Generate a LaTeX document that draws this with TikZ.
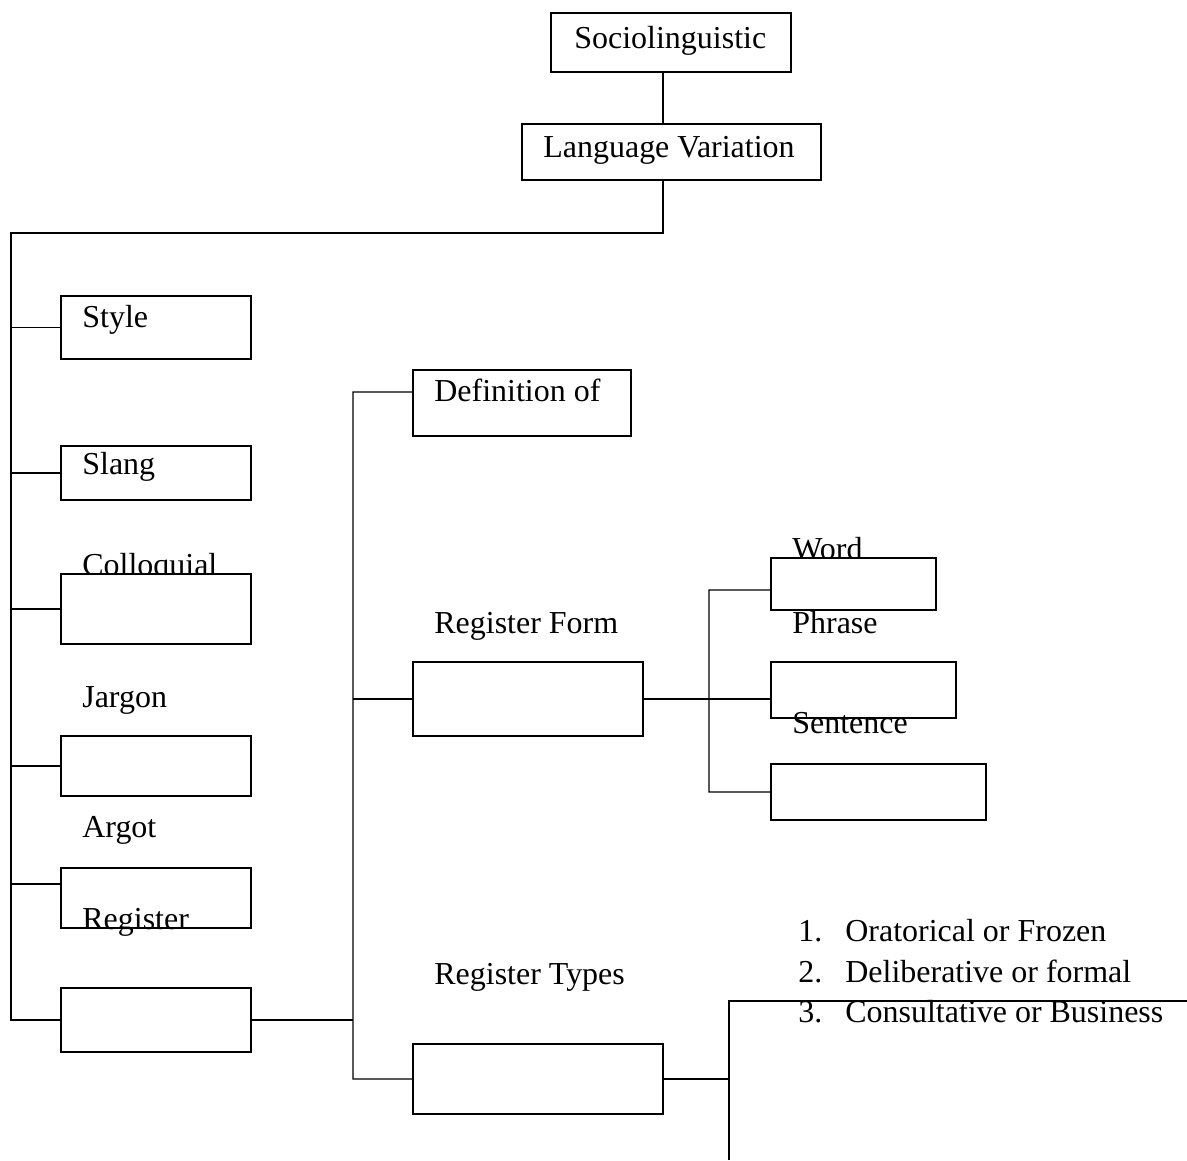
\documentclass[tikz,border=0pt]{standalone}
\usepackage{fontspec}
\setmainfont{Liberation Serif}
\usepackage{tikz}

\begin{document}
\begin{tikzpicture}[x=0.02cm,y=-0.02cm]
			\tikzstyle{bx} = [draw, fill=white, line width=0.8pt, inner sep=0pt]
			\tikzstyle{lbl} = [anchor=base west, inner sep=0pt, font=\fontsize{18.2}{22}\selectfont]
			\useasboundingbox (0,0) rectangle (1187,1160);

			% top of the tree
			\node [bx, minimum width=4.8cm, minimum height=1.18cm] (soc) at (671,42.5) {};
			\node [lbl] at (574,48) {Sociolinguistic};
			\node [bx, minimum width=5.98cm, minimum height=1.12cm] (lv) at (671.5,152) {};
			\node [lbl] at (543,157) {Language Variation};

			% left column
			\node [bx, minimum width=3.8cm, minimum height=1.26cm] (style) at (156,327.5) {};
			\node [lbl] at (82,327) {Style};
			\node [bx, minimum width=3.8cm, minimum height=1.08cm] (slang) at (156,473) {};
			\node [lbl] at (82,474) {Slang};
			\node [lbl] at (82,575) {Colloquial};
			\node [bx, minimum width=3.8cm, minimum height=1.4cm] (coll) at (156,609) {};
			\node [lbl] at (82,707) {Jargon};
			\node [bx, minimum width=3.8cm, minimum height=1.2cm] (jarg) at (156,766) {};
			\node [lbl] at (82,837) {Argot};
			\node [bx, minimum width=3.8cm, minimum height=1.2cm] (argot) at (156,898) {};
			\node [lbl] at (82,929) {Register};
			\node [bx, minimum width=3.8cm, minimum height=1.28cm] (reg) at (156,1020) {};

			% register branch
			\node [bx, minimum width=4.36cm, minimum height=1.32cm] (def) at (522,403) {};
			\node [lbl] at (434,401) {Definition of};
			\node [lbl] at (434,633) {Register Form};
			\node [bx, minimum width=4.6cm, minimum height=1.48cm] (form) at (528,699) {};
			\node [lbl] at (434,984) {Register Types};
			\node [bx, minimum width=5cm, minimum height=1.4cm] (types) at (538,1079) {};

			% register form branch
			\node [lbl] at (792,559) {Word};
			\node [bx, minimum width=3.3cm, minimum height=1.04cm] (word) at (853.5,584) {};
			\node [lbl] at (792,633) {Phrase};
			\node [bx, minimum width=3.7cm, minimum height=1.12cm] (phrase) at (863.5,690) {};
			\node [lbl] at (792,733) {Sentence};
			\node [bx, minimum width=4.3cm, minimum height=1.12cm] (sent) at (878.5,792) {};

			% register types list
			\node [lbl] (n1) at (798,941) {1.};
			\node [lbl] at (845,941) {Oratorical or Frozen};
			\node [lbl] (n2) at (798,982) {2.};
			\node [lbl] at (845,982) {Deliberative or formal};
			\node [lbl] (n3) at (798,1022) {3.};
			\node [lbl] at (845,1022) {Consultative or Business};

			\coordinate (top) at (663,233);
			\coordinate (lt) at (11,233);
			\coordinate (mt) at (353,392);
			\coordinate (rt) at (709,590);
			\coordinate (bt) at (729,1001);
			\coordinate (btend) at (729,1160);
			\coordinate (rend) at (1187,1001);
			\coordinate (ac) at ([yshift=0.28cm]argot.west);
			\coordinate (dc) at ([yshift=0.22cm]def.west);
			\coordinate (wc) at ([yshift=-0.12cm]word.west);

			\draw [line width=0.8pt] (soc.south -| top) -- (lv.north -| top);
			\draw [line width=0.8pt] (lv.south -| top) -- (top) -- (lt) -- (lt |- reg.west) -- (reg.west);
			\draw [line width=0.8pt] (lt |- style.west) -- (style.west);
			\draw [line width=0.8pt] (lt |- slang.west) -- (slang.west);
			\draw [line width=0.8pt] (lt |- coll.west) -- (coll.west);
			\draw [line width=0.8pt] (lt |- jarg.west) -- (jarg.west);
			\draw [line width=0.8pt] (lt |- ac) -- (ac);

			\draw [line width=0.8pt] (reg.east) -- (mt |- reg.east);
			\draw [line width=0.8pt] (dc) -- (mt) -- (mt |- types.west) -- (types.west);
			\draw [line width=0.8pt] (mt |- form.west) -- (form.west);

			\draw [line width=0.8pt] (form.east) -- (form.east -| phrase.west);
			\draw [line width=0.8pt] (wc) -- (rt) -- (rt |- sent.west) -- (sent.west);

			\draw [line width=0.8pt] (types.east) -- (bt |- types.east);
			\draw [line width=0.8pt] (btend) -- (bt) -- (rend);

		\end{tikzpicture}
\end{document}
